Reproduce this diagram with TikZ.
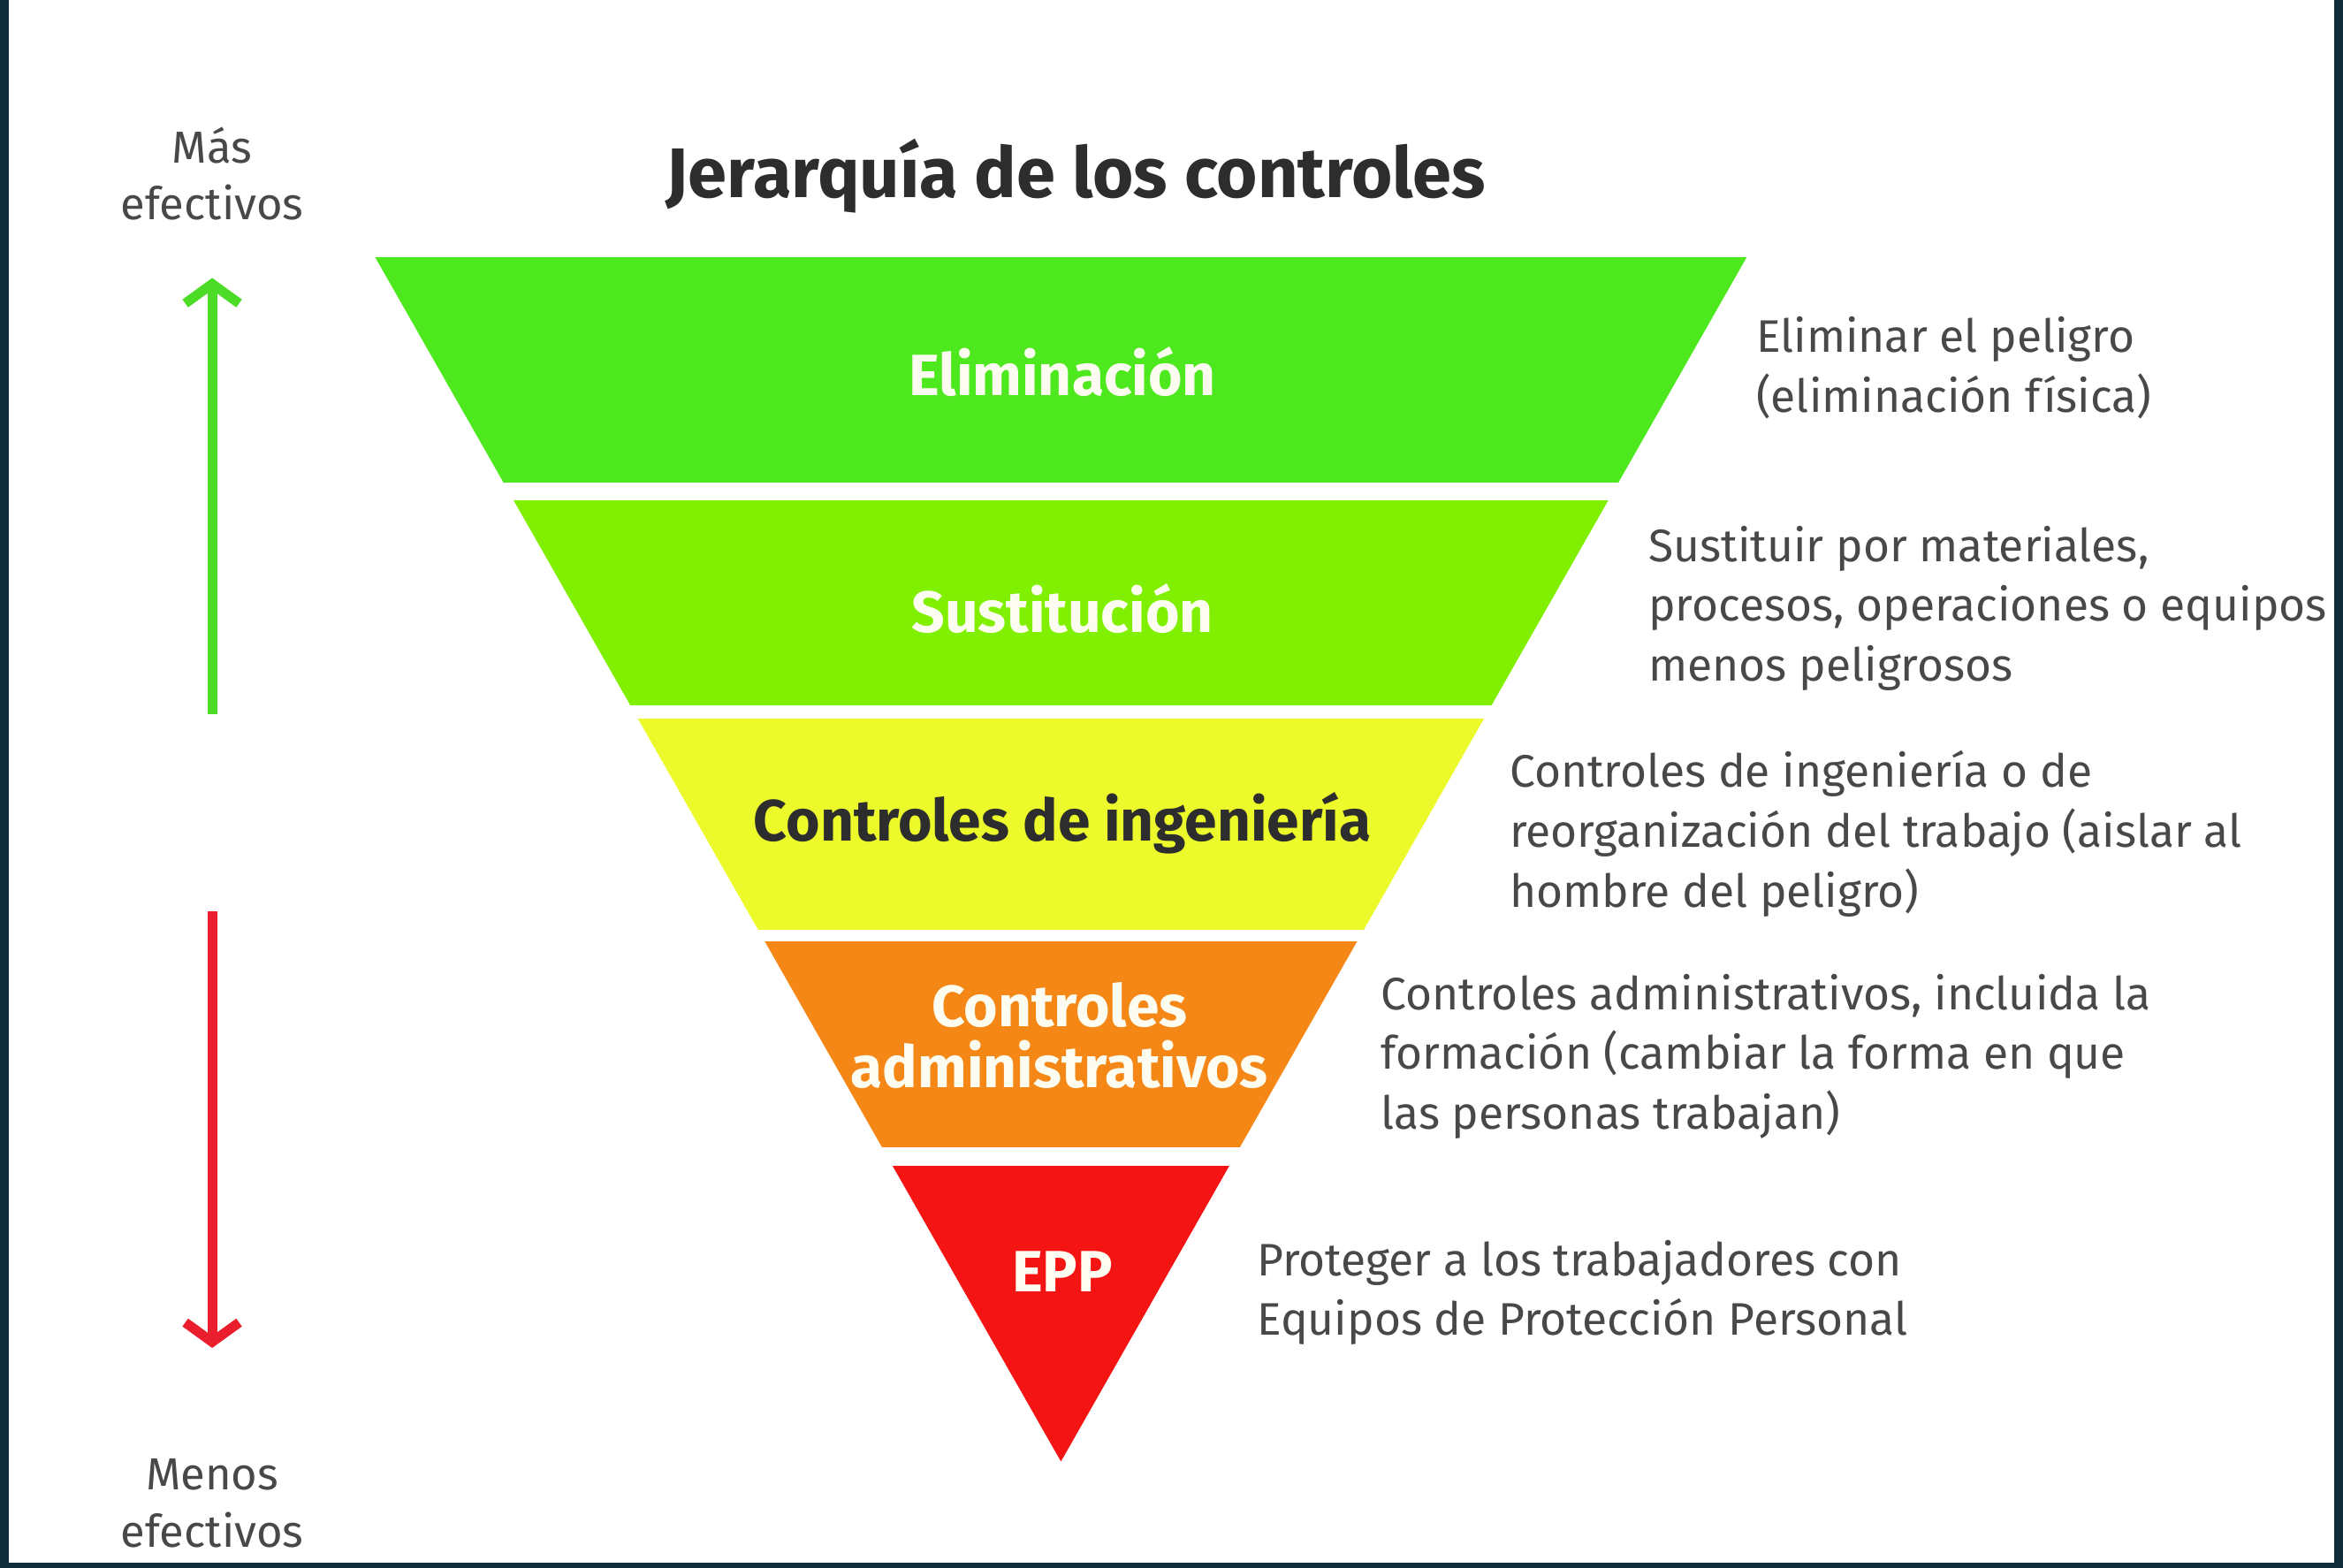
\documentclass[tikz,border=0pt]{standalone}
\usepackage{fontspec}
\setmainfont{Fira Sans}
\usepackage{xcolor}
\usetikzlibrary{arrows.meta}
\usetikzlibrary{calc}
\usetikzlibrary{positioning}

\definecolor{frameblue}{RGB}{16,45,60}
\definecolor{elimgreen}{RGB}{78,232,30}
\definecolor{sustgreen}{RGB}{128,240,0}
\definecolor{ingeyellow}{RGB}{236,250,44}
\definecolor{adminorange}{RGB}{245,135,22}
\definecolor{eppred}{RGB}{245,20,20}
\definecolor{upgreen}{RGB}{76,220,40}
\definecolor{downred}{RGB}{235,30,45}
\definecolor{txtgray}{RGB}{72,72,72}
\definecolor{titlegray}{RGB}{45,45,45}
\definecolor{labelwhite}{RGB}{252,252,240}

\begin{document}
\begin{tikzpicture}[x=1pt,y=-1pt,>=Straight Barb, semithick]
 \tikzstyle{band}=[inner sep=0pt, align=center, text=labelwhite, font=\fontsize{39}{41}\selectfont\bfseries]
 \tikzstyle{desc}=[inner sep=0pt, align=left, anchor=west, text=txtgray, font=\fontsize{30.5}{40}\selectfont]
 \tikzstyle{side}=[inner sep=0pt, align=center, text=txtgray, font=\fontsize{30}{38}\selectfont]
 \tikzstyle{effarrow}=[line width=6.5pt, -{Straight Barb[length=13pt,width=36pt]}]
 % frame and page
 \fill[frameblue] (0,0) rectangle (1568,1049);
 \fill[white] (6,0) rectangle (1562,1046);
 \useasboundingbox (0,0) rectangle (1568,1049);

 \node[text=titlegray, font=\fontsize{47}{50}\selectfont\bfseries] (title) at (720,118) {Jerarquía de los controles};

 % inverted triangle cut into bands
 \coordinate (tl) at (251,172);
 \coordinate (tr) at (1169,172);
 \coordinate (apex) at (710,978);
 \begin{scope}
  \clip (tl) -- (tr) -- (apex) -- cycle;
  \fill[elimgreen] (200,160) rectangle (1250,323);
  \fill[sustgreen] (200,335) rectangle (1250,472);
  \fill[ingeyellow] (200,481) rectangle (1250,622);
  \fill[adminorange] (200,630) rectangle (1250,768);
  \fill[eppred] (200,780) rectangle (1250,990);
 \end{scope}

 \node[band] (elim) at (711,249) {Eliminación};
 \node[band] (sust) at (711,407) {Sustitución};
 \node[band, text=titlegray] (inge) at (711,551) {Controles de ingeniería};
 \node[band] (admin) at (709,693) {Controles\\administrativos};
 \node[band] (epp) at (711,851) {EPP};

 \node[desc] (elimtxt) at (1175,246) {Eliminar el peligro\\(eliminación física)};
 \node[desc] (susttxt) at (1103,407) {Sustituir por materiales,\\procesos, operaciones o equipos\\menos peligrosos};
 \node[desc] (ingetxt) at (1010,558) {Controles de ingeniería o de\\reorganización del trabajo (aislar al\\hombre del peligro)};
 \node[desc] (admintxt) at (924,707) {Controles administrativos, incluida la\\formación (cambiar la forma en que\\las personas trabajan)};
 \node[desc] (epptxt) at (841,865) {Proteger a los trabajadores con\\Equipos de Protección Personal};

 % more / less effective
 \node[side] (mas) at (142,116) {Más\\efectivos};
 \node[side] (menos) at (142,1006) {Menos\\efectivos};
 \coordinate (upfrom) at (142,478);
 \coordinate (upto) at (142,186);
 \coordinate (downfrom) at (142,610);
 \coordinate (downto) at (142,902);
 \draw[effarrow, upgreen] (upfrom) -- (upto);
 \draw[effarrow, downred] (downfrom) -- (downto);
\end{tikzpicture}
\end{document}
